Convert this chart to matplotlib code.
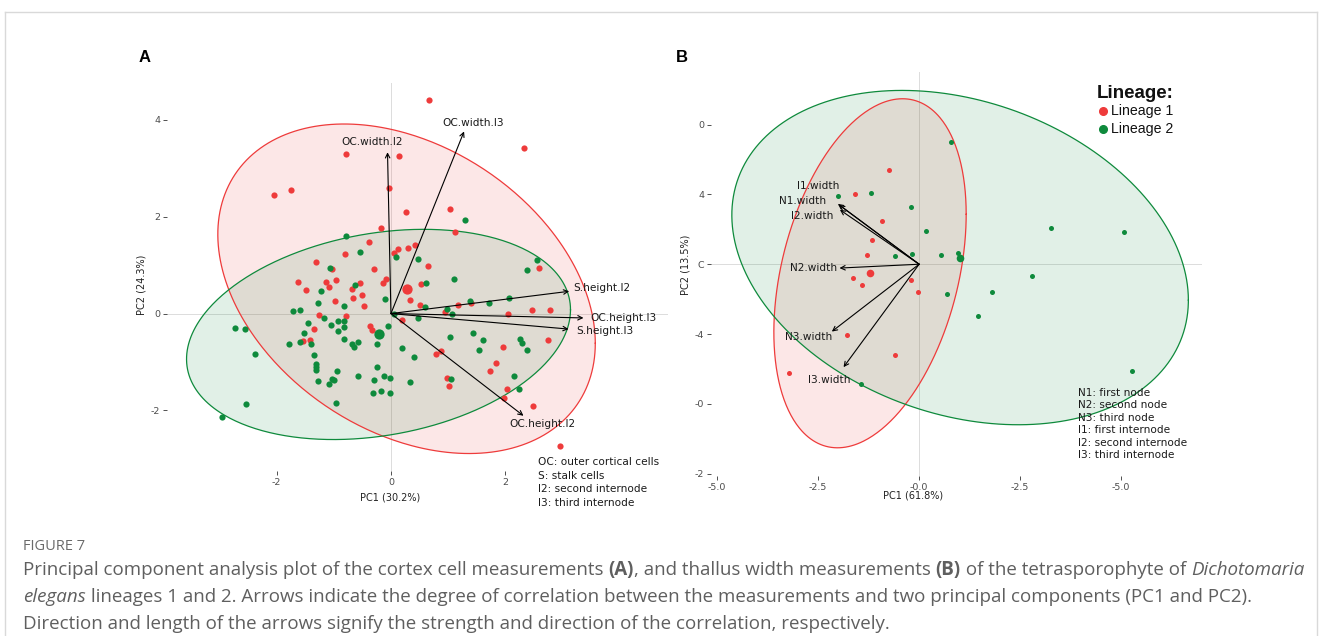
import numpy as np
import matplotlib
matplotlib.use("Agg")
import matplotlib.pyplot as plt
from matplotlib.lines import Line2D

plt.rcParams['font.family'] = ['DejaVu Sans']
plt.rcParams['axes.unicode_minus'] = False

# ---- panel A: cortex cell measurements (PC scores) ----
a_lin1_x = [-0.79, -2.05, -1.75, -0.04, -0.18, -0.39, -0.81, -1.31, -1.04, -0.29,
            0.67, 2.33, 0.14, 0.27, 1.04, 1.13, 0.12, 0.05, 0.30, 0.42, 0.65, 2.60,
            -1.63, -1.14, -0.97, -1.08, -0.54, -0.68, -0.14, -0.08, -1.48, -0.51, -0.67,
            -0.98, -0.47, -1.26, -0.78, -1.35, -0.37, -0.33, -1.54, -1.41,
            0.53, 0.34, 0.51, 0.95, 1.18, 1.40, 2.05, 2.47, 2.79, 0.20, 2.75, 1.97,
            0.88, 0.79, 1.84, 1.73, 0.99, 1.02, 2.03, 1.98, 2.48, 2.96]
a_lin1_y = [3.30, 2.45, 2.56, 2.60, 1.76, 1.48, 1.22, 1.06, 0.92, 0.92,
            4.41, 3.42, 3.25, 2.09, 2.15, 1.69, 1.34, 1.25, 1.35, 1.41, 0.98, 0.95,
            0.65, 0.65, 0.69, 0.55, 0.64, 0.50, 0.64, 0.71, 0.49, 0.38, 0.32,
            0.25, 0.16, -0.03, -0.05, -0.31, -0.26, -0.34, -0.57, -0.55,
            0.62, 0.29, 0.18, 0.04, 0.17, 0.21, 0.00, 0.07, 0.07, -0.14, -0.54, -0.70,
            -0.77, -0.83, -1.02, -1.18, -1.34, -1.49, -1.56, -1.74, -1.91, -2.73]
a_lin2_x = [-0.78, -0.55, -1.07, 1.29, 0.08, 0.48, 2.55, 2.38, -0.63, -1.23,
            -0.10, -1.27, -0.83, -1.72, -1.60, -1.17, -0.93, -0.82, -1.45, -1.05,
            -0.83, -0.92, -0.06, -1.53, -1.79, -1.59, -1.40, -0.82, -0.68, -0.65,
            -0.57, -0.25, -1.35, -2.38, -2.73, -2.55, -1.31, -1.31, -1.31, -0.95,
            -1.27, -1.03, -1.00, -1.08, -0.58, -0.25, -0.29, -0.13, -0.01, -0.31,
            -0.18, -0.02, -0.96, -2.53, -2.95, 1.10, 0.61, 0.59, 0.99, 1.07,
            1.38, 1.71, 2.07, 0.05, 0.48, 1.04, 1.44, 1.61, 1.55, 2.26,
            2.29, 2.39, 0.20, 0.41, 2.16, 0.34, 1.05, 2.25]
a_lin2_y = [1.61, 1.28, 0.95, 1.93, 1.17, 1.12, 1.10, 0.90, 0.58, 0.46,
            0.31, 0.21, 0.16, 0.06, 0.08, -0.09, -0.16, -0.15, -0.20, -0.24,
            -0.28, -0.37, -0.26, -0.40, -0.63, -0.59, -0.62, -0.52, -0.63, -0.68,
            -0.58, -0.62, -0.86, -0.84, -0.29, -0.32, -1.05, -1.10, -1.17, -1.19,
            -1.39, -1.35, -1.37, -1.46, -1.28, -1.11, -1.37, -1.28, -1.32, -1.65,
            -1.59, -1.63, -1.85, -1.87, -2.14, 0.71, 0.64, 0.13, 0.09, -0.01,
            0.26, 0.21, 0.33, 0.00, -0.09, -0.49, -0.41, -0.55, -0.76, -0.52,
            -0.60, -0.75, -0.72, -0.90, -1.28, -1.41, -1.35, -1.55]
a_vars = ['OC.width.I2', 'OC.width.I3', 'S.height.I2', 'OC.height.I3', 'S.height.I3', 'OC.height.I2']
a_load_x = [-0.06, 1.28, 3.12, 3.37, 3.11, 2.32]
a_load_y = [3.33, 3.76, 0.46, -0.09, -0.32, -2.11]
a_pc1 = 'PC1 (30.2%)'
a_pc2 = 'PC2 (24.3%)'
a_notes = ['OC: outer cortical cells', 'S: stalk cells', 'I2: second internode', 'I3: third internode']

# ---- panel B: thallus width measurements ----
b_lin1_x = [-0.75, -1.59, -0.91, -1.16, -1.29, -1.64, -1.41, -0.21, -0.03, -1.78, -0.59, -3.22]
b_lin1_y = [2.69, 2.01, 1.23, 0.70, 0.27, -0.40, -0.60, -0.45, -0.81, -2.02, -2.60, -3.13]
b_lin2_x = [-2.00, -1.19, -0.21, 0.17, -0.59, -0.17, -1.43, 0.79, 3.27, 5.07,
            0.54, 0.95, 2.80, 0.69, 1.81, 1.46, 5.28]
b_lin2_y = [1.96, 2.05, 1.65, 0.95, 0.24, 0.30, -3.44, 3.51, 1.05, 0.91,
            0.27, 0.32, -0.33, -0.84, -0.81, -1.48, -3.07]
b_vars = ['I1.width', 'N1.width', 'I2.width', 'N2.width', 'N3.width', 'I3.width']
b_load_x = [-2.01, -1.98, -1.96, -1.97, -2.16, -1.87]
b_load_y = [1.73, 1.70, 1.56, -0.11, -1.93, -2.95]
b_xticks = [-5.0, -2.5, 0.0, 2.5, 5.0]
b_xticklabels = ['-5.0', '-2.5', '-0.0', '-2.5', '-5.0']
b_yticks = [4, 2, 0, -2, -4, -6]
b_yticklabels = ['0', '4', 'C', '-4', '-0', '-2']
b_pc1 = 'PC1 (61.8%)'
b_pc2 = 'PC2 (13.5%)'
b_notes = ['N1: first node', 'N2: second node', 'N3: third node',
           'I1: first internode', 'I2: second internode', 'I3: third internode']

lineages = ['Lineage 1', 'Lineage 2']
RED = '#EE3B3B'
GREEN = '#0E8A3C'

W, H = 1322, 636
fig = plt.figure(figsize=(W / 100, H / 100), dpi=100)


def fx(px):
    return px / W


def fy(py):
    return 1 - py / H


def conf_ellipse(x, y, level=0.95, npts=400):
    # same construction as ggplot2 stat_ellipse(type = "norm")
    x = np.asarray(x)
    y = np.asarray(y)
    d = len(x) - 1
    fq = d / 2 * ((1 - level) ** (-2 / d) - 1)   # qf(level, 2, d)
    r = np.sqrt(2 * fq)
    L = np.linalg.cholesky(np.cov(x, y))
    t = np.linspace(0, 2 * np.pi, npts)
    circ = np.column_stack([np.cos(t), np.sin(t)])
    e = circ @ L.T * r + [x.mean(), y.mean()]
    return e[:, 0], e[:, 1]


def biplot(ax, groups, vars_, lx, ly, offsets, s_small, s_big):
    ax.axhline(0, color='#dcdcdc', lw=0.7, zorder=0)
    ax.axvline(0, color='#dcdcdc', lw=0.7, zorder=0)
    for gx, gy, col in groups:
        ex, ey = conf_ellipse(gx, gy)
        ax.fill(ex, ey, color=col, alpha=0.12, lw=0, zorder=1)
        ax.plot(ex, ey, color=col, lw=0.9, zorder=2)
    for gx, gy, col in groups:
        ax.scatter(gx, gy, s=s_small, color=col, lw=0, zorder=3)
        ax.scatter([np.mean(gx)], [np.mean(gy)], s=s_big, color=col, lw=0, zorder=3)
    for name, x, y, (dx, dy, ha) in zip(vars_, lx, ly, offsets):
        ax.annotate('', xy=(x, y), xytext=(0, 0),
                    arrowprops=dict(arrowstyle='->', lw=0.8, color='black',
                                    shrinkA=0, shrinkB=0, mutation_scale=8),
                    zorder=4)
        ax.annotate(name, xy=(x, y), xytext=(dx * 0.72, dy * 0.72),
                    textcoords='offset points', ha=ha, va='center',
                    fontsize=7.6, color='#1a1a1a', zorder=5)
    for sp in ax.spines.values():
        sp.set_visible(False)
    ax.set_facecolor('none')
    ax.tick_params(length=3, width=0.6, color='#333333', labelsize=6.8,
                   labelcolor='#4d4d4d', pad=2)


# panel A
axA = fig.add_axes([fx(167), fy(471), (668 - 167) / W, (471 - 83) / H])
offA = [(-15, 10, 'center'), (9, 8, 'center'), (4, 3, 'left'),
        (7, 0, 'left'), (8, -2, 'left'), (19, -8, 'center')]
biplot(axA, [(a_lin1_x, a_lin1_y, RED), (a_lin2_x, a_lin2_y, GREEN)],
       a_vars, a_load_x, a_load_y, offA, 20, 55)
axA.set_xlim(-3.92, 4.85)
axA.set_ylim(-3.25, 4.76)
axA.set_xticks([-2, 0, 2])
axA.set_yticks([-2, 0, 2, 4])
axA.set_xlabel(a_pc1, fontsize=7, color='#222222')
axA.set_ylabel(a_pc2, fontsize=7, color='#222222')
axA.xaxis.set_label_coords((390 - 167) / 501, -(492 - 471) / 388)
axA.yaxis.set_label_coords(-(167 - 146) / 501, (471 - 285) / 388)

# panel B
axB = fig.add_axes([fx(711), fy(476), (1202 - 711) / W, (476 - 72) / H])
offB = [(-20, 18, 'center'), (-37, 4, 'center'), (-28, -6, 'center'),
        (-26, 0, 'center'), (-23, -5, 'center'), (-14, -13, 'center')]
biplot(axB, [(b_lin1_x, b_lin1_y, RED), (b_lin2_x, b_lin2_y, GREEN)],
       b_vars, b_load_x, b_load_y, offB, 13, 30)
axB.set_xlim(-5.15, 7.0)
axB.set_ylim(-6.07, 5.51)
axB.set_xticks(b_xticks, b_xticklabels)
axB.set_yticks(b_yticks, b_yticklabels)
axB.set_xlabel(b_pc1, fontsize=7, color='#222222')
axB.set_ylabel(b_pc2, fontsize=7, color='#222222')
axB.xaxis.set_label_coords((913 - 711) / 491, -(491 - 476) / 404)
axB.yaxis.set_label_coords(-(711 - 690) / 491, (476 - 265) / 404)

# footnotes
for i, t in enumerate(a_notes):
    fig.text(fx(538), fy(462 + i * 13.7), t, fontsize=7.6, color='#1a1a1a', va='center')
for i, t in enumerate(b_notes):
    fig.text(fx(1078), fy(393 + i * 12.4), t, fontsize=7.6, color='#1a1a1a', va='center')

# legend
fig.text(fx(1097), fy(93), 'Lineage:', family='Liberation Sans', fontweight='bold',
         fontsize=13.5, color='#111111', va='center')
for i, (lab, col) in enumerate(zip(lineages, [RED, GREEN])):
    yy = 111 + i * 18
    fig.add_artist(Line2D([fx(1103)], [fy(yy)], marker='o', ms=5.5, color=col,
                          lw=0, transform=fig.transFigure))
    fig.text(fx(1111), fy(yy), lab, family='Liberation Sans', fontsize=10.2,
             color='#111111', va='center')

# panel letters
fig.text(fx(145), fy(58), 'A', fontweight='bold', fontsize=12, ha='center', va='center',
         family='Liberation Sans')
fig.text(fx(682), fy(58), 'B', fontweight='bold', fontsize=12, ha='center', va='center',
         family='Liberation Sans')

# frame around the figure
for xs, ys in [([5, 1317], [12, 12]), ([5, 5], [12, 640]), ([1317, 1317], [12, 640])]:
    fig.add_artist(Line2D([fx(v) for v in xs], [fy(v) for v in ys], color='#d9d9d9',
                          lw=1, transform=fig.transFigure))

# caption
cap_lines = [
    [('Principal component analysis plot of the cortex cell measurements ', {}),
     ('(A)', {'fontweight': 'bold'}),
     (', and thallus width measurements ', {}),
     ('(B)', {'fontweight': 'bold'}),
     (' of the tetrasporophyte of ', {}),
     ('Dichotomaria', {'style': 'italic'})],
    [('elegans', {'style': 'italic'}),
     (' lineages 1 and 2. Arrows indicate the degree of correlation between the measurements '
      'and two principal components (PC1 and PC2).', {})],
    [('Direction and length of the arrows signify the strength and direction of the '
      'correlation, respectively.', {})],
]
cap_font = 'Open Sans'
renderer = fig.canvas.get_renderer()


def run_width(txt, size, kw):
    t1 = fig.text(0, 0, txt + '|', fontsize=size, family=cap_font, **kw)
    t2 = fig.text(0, 0, '|', fontsize=size, family=cap_font, **kw)
    w = t1.get_window_extent(renderer).width - t2.get_window_extent(renderer).width
    t1.remove()
    t2.remove()
    return w


base = 12.0
w0 = sum(run_width(t, base, kw) for t, kw in cap_lines[0])
size = base * (1299 - 23) / w0
for line, ypx in zip(cap_lines, [570, 597, 624]):
    x = 23
    for t, kw in line:
        fig.text(fx(x), fy(ypx), t, fontsize=size, family=cap_font, color='#5f5f5f',
                 va='center', **kw)
        x += run_width(t, size, kw)
fig.text(fx(23), fy(546), 'FIGURE 7', fontsize=size * 0.78, family=cap_font,
         color='#6a6a6a', va='center')

fig.savefig('out.png', dpi=100)
